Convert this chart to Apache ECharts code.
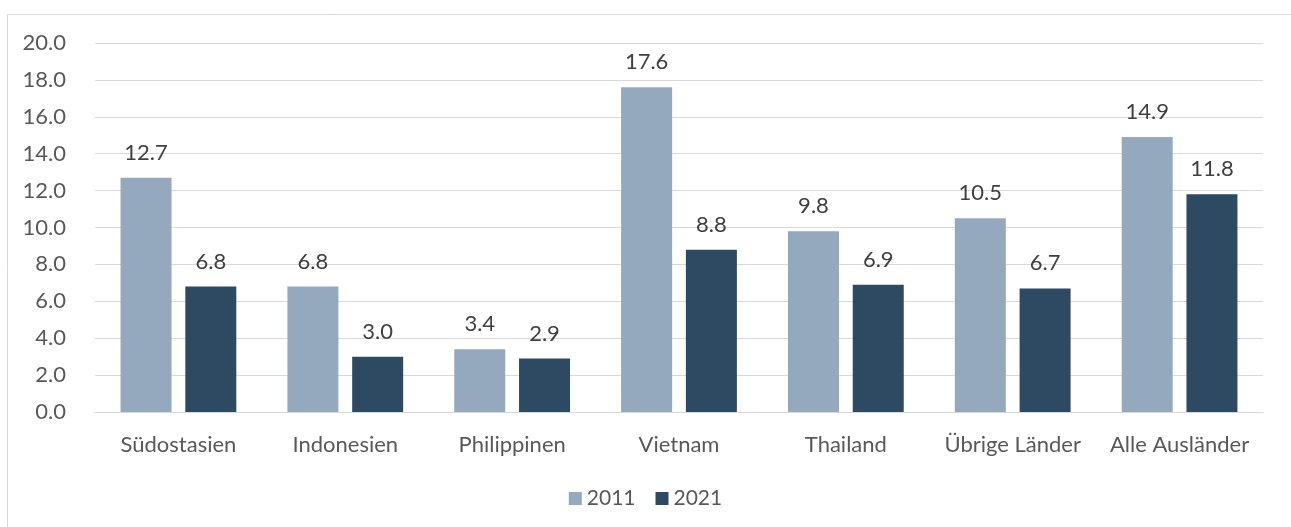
<!DOCTYPE html>
<html>
<head>
<meta charset="utf-8">
<script src="https://cdn.jsdelivr.net/npm/echarts@6/dist/echarts.min.js"></script>
<style>
html, body { margin: 0; padding: 0; background: #fff; }
#chart { width: 1291px; height: 527px; }
</style>
</head>
<body>
<div id="chart"></div>
<script>
const categories = ['Südostasien', 'Indonesien', 'Philippinen', 'Vietnam', 'Thailand', 'Übrige Länder', 'Alle Ausländer']
const values2011 = [12.7, 6.8, 3.4, 17.6, 9.8, 10.5, 14.9]
const values2021 = [6.8, 3.0, 2.9, 8.8, 6.9, 6.7, 11.8]
const seriesNames = ['2011', '2021']

let fontFamily = 'Lato, "Noto Sans", sans-serif'
let textColor = '#595959'

let labelStyle = {
    show: true,
    position: 'top',
    distance: 14,
    color: '#404040',
    fontSize: 22,
    fontFamily: fontFamily,
    formatter: p => p.value.toFixed(1)
}

let option = {
    animation: false,
    graphic: [{
        type: 'rect',
        shape: { x: 7.5, y: 14.5, width: 1300, height: 530 },
        style: { fill: 'none', stroke: '#d9d9d9', lineWidth: 1 },
        silent: true
    }],
    legend: {
        data: seriesNames,
        bottom: 13,
        left: 'center',
        icon: 'rect',
        itemWidth: 13,
        itemHeight: 13,
        itemGap: 20,
        textStyle: { color: textColor, fontSize: 21, fontFamily: fontFamily }
    },
    grid: {
        left: 95,
        right: 28,
        top: 43,
        bottom: 115,
        containLabel: false
    },
    xAxis: {
        type: 'category',
        data: categories,
        axisTick: { show: false },
        axisLine: { lineStyle: { color: '#d9d9d9', width: 1 } },
        axisLabel: {
            color: textColor,
            fontSize: 22,
            fontFamily: fontFamily,
            margin: 22,
            interval: 0
        }
    },
    yAxis: {
        type: 'value',
        min: 0,
        max: 20,
        interval: 2,
        axisLine: { show: false },
        axisTick: { show: false },
        axisLabel: {
            color: textColor,
            fontSize: 22,
            fontFamily: fontFamily,
            margin: 29,
            formatter: v => v.toFixed(1)
        },
        splitLine: { lineStyle: { color: '#d9d9d9', width: 1 } }
    },
    series: [{
        name: seriesNames[0],
        type: 'bar',
        data: values2011,
        barWidth: 51,
        barGap: '27%',
        itemStyle: { color: '#94a9bd' },
        label: labelStyle
    }, {
        name: seriesNames[1],
        type: 'bar',
        data: values2021,
        barWidth: 51,
        itemStyle: { color: '#2e4a63' },
        label: labelStyle
    }]
}

var myChart = echarts.init(document.getElementById('chart'))
myChart.setOption(option)
window.addEventListener('resize', function() {
    myChart.resize()
})
</script>
</body>
</html>
